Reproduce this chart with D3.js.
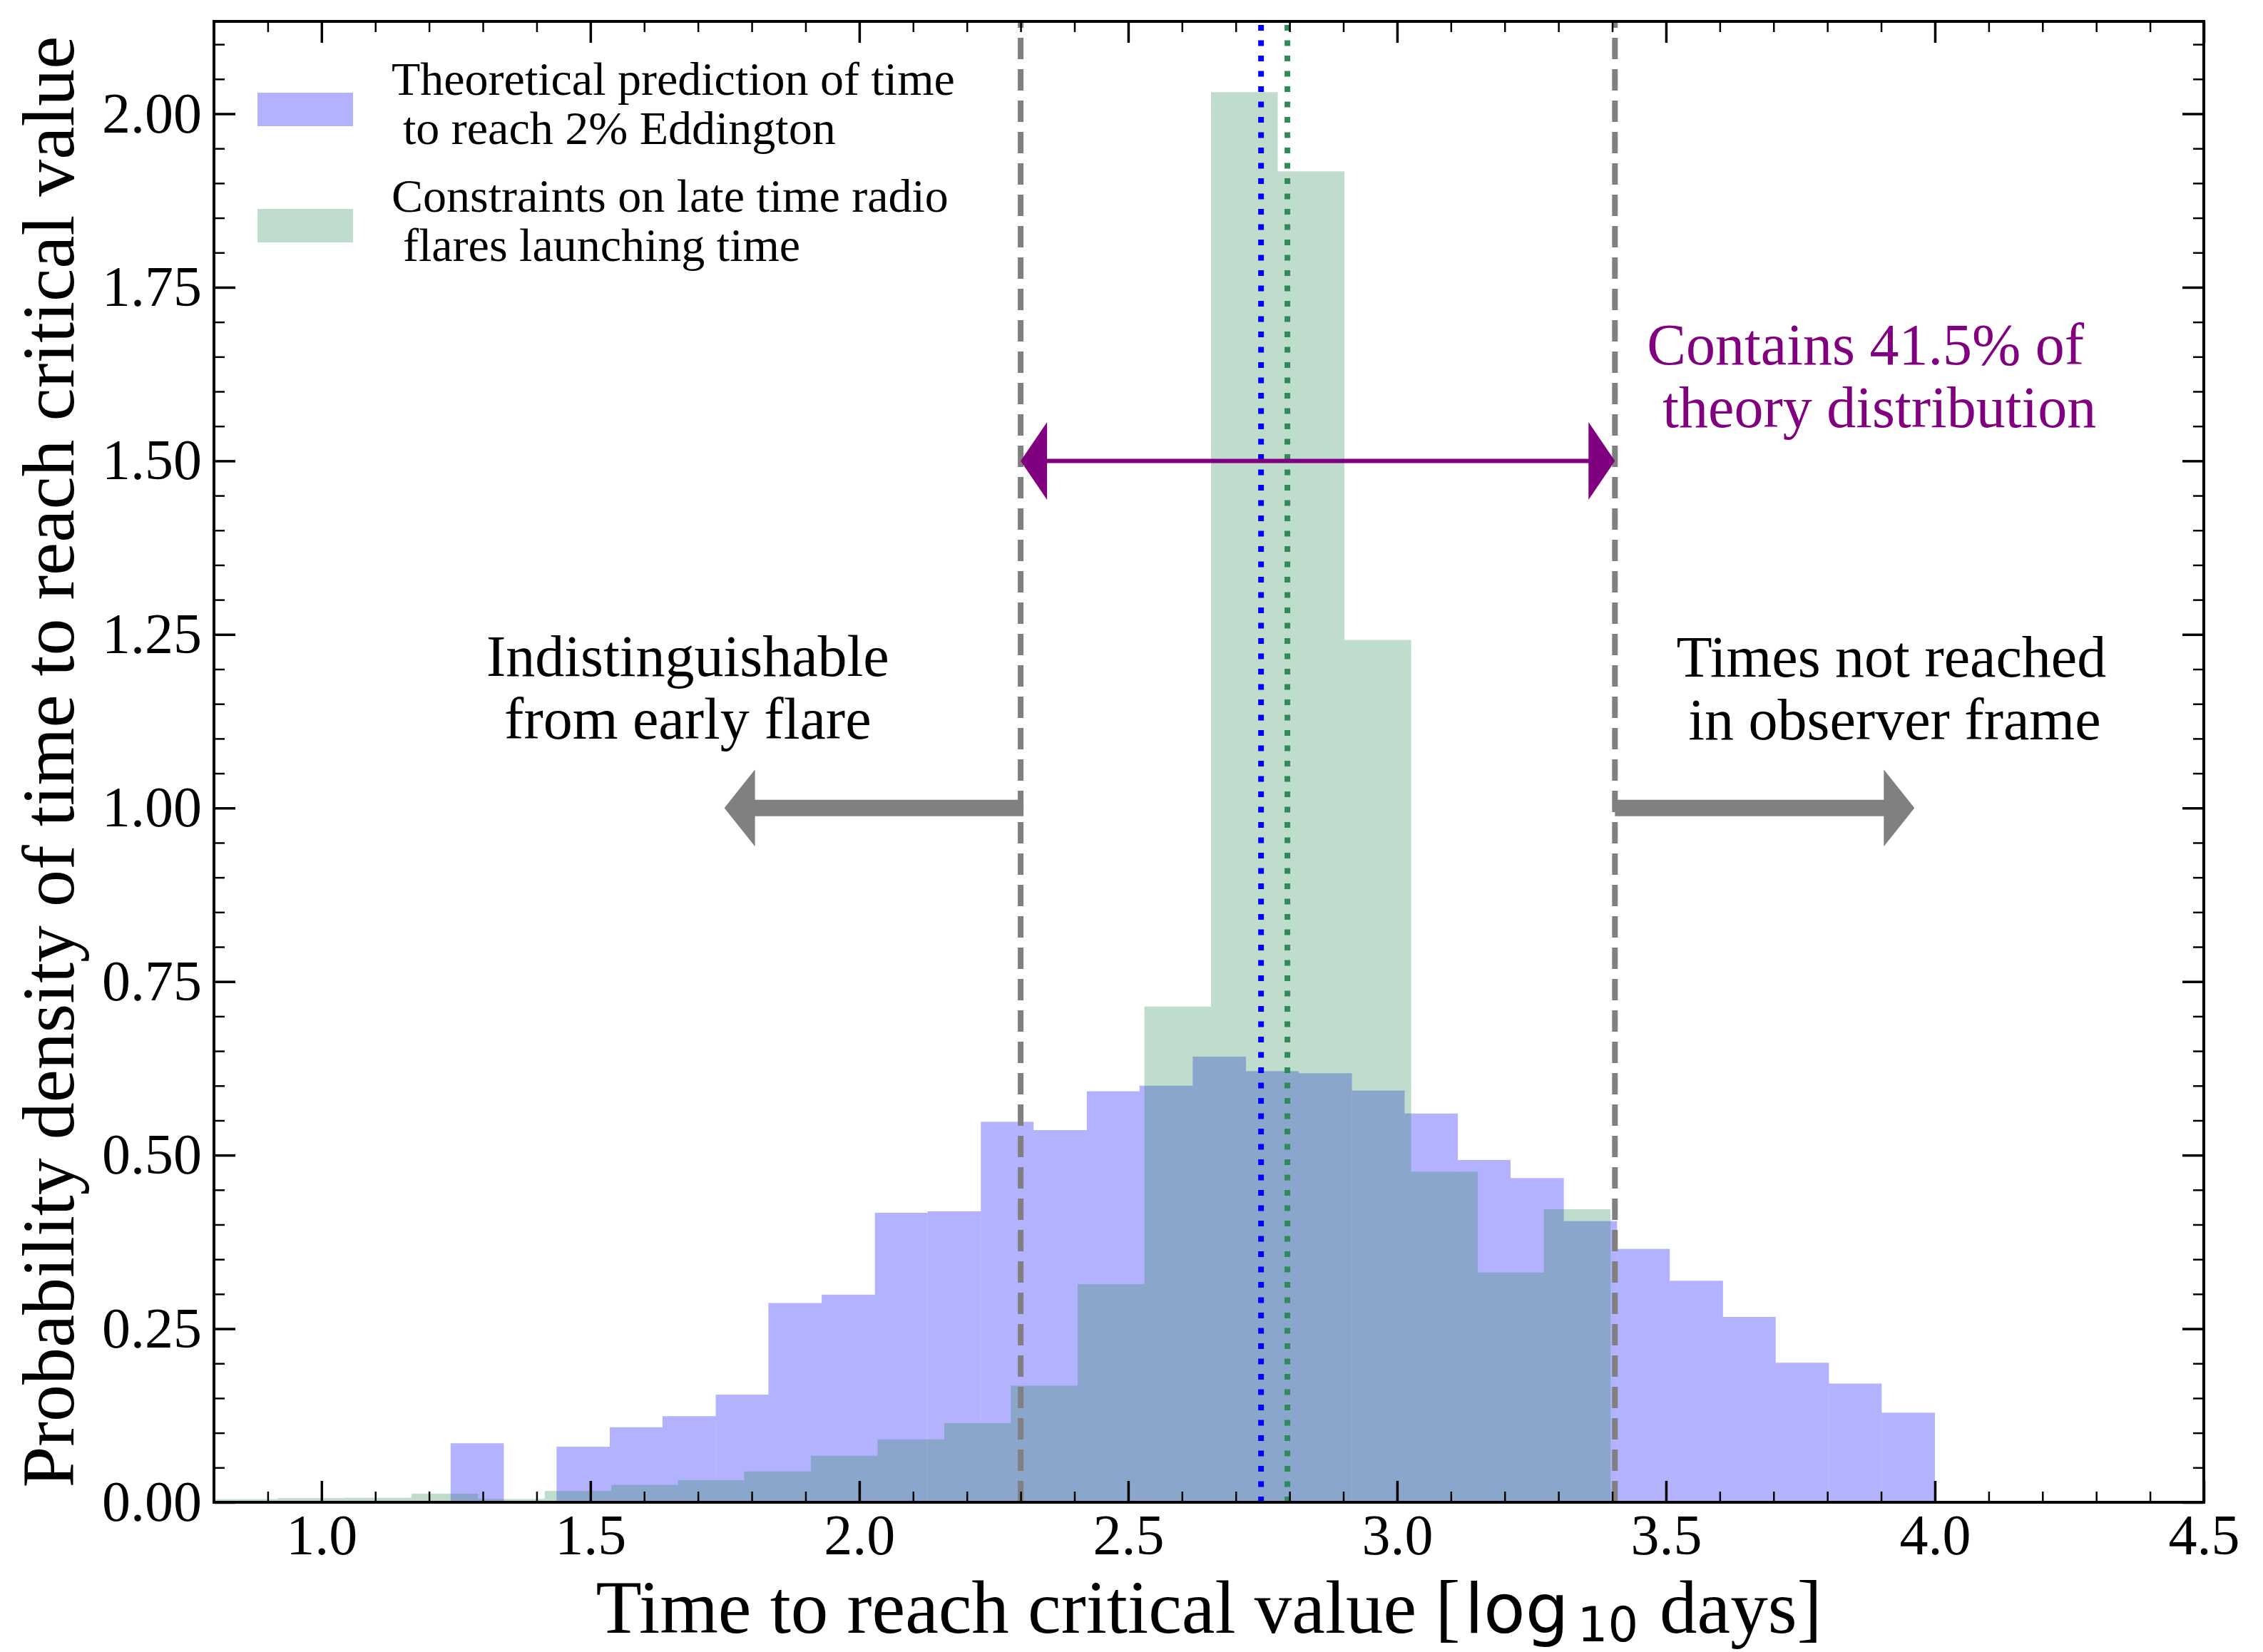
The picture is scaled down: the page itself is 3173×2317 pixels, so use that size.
<!DOCTYPE html>
<html>
<head>
<meta charset="utf-8">
<script src="https://cdn.jsdelivr.net/npm/d3@7"></script>
<style>
  html, body { margin: 0; padding: 0; background: #fff; }
  svg { display: block; }
  text { font-family: 'Liberation Serif', 'Times New Roman', serif; }
</style>
</head>
<body>
<div id="chart"></div>
<script>
// theoretical prediction (blue histogram), bin edges in log10 days
const blueEdges = [1.240, 1.339, 1.437, 1.536, 1.634, 1.733, 1.831, 1.930, 2.029, 2.127,
  2.226, 2.324, 2.423, 2.521, 2.620, 2.719, 2.817, 2.916, 3.014, 3.113,
  3.211, 3.310, 3.409, 3.507, 3.606, 3.704, 3.803, 3.901, 4.000]
const blueDensity = [0.085, 0, 0.080, 0.108, 0.124, 0.155, 0.287, 0.299, 0.417, 0.419,
  0.548, 0.536, 0.592, 0.600, 0.642, 0.621, 0.618, 0.593, 0.560, 0.493,
  0.467, 0.405, 0.365, 0.319, 0.267, 0.201, 0.171, 0.129]

// radio flare launching time constraints (green histogram)
const greenEdges = [0.795, 0.919, 1.043, 1.167, 1.291, 1.415, 1.539, 1.663, 1.786, 1.910,
  2.034, 2.158, 2.282, 2.406, 2.530, 2.654, 2.778, 2.902, 3.026, 3.150, 3.273, 3.397]
const greenDensity = [0.0045, 0.006, 0.0065, 0.0123, 0.0048, 0.0164, 0.025, 0.032, 0.0444, 0.067,
  0.0905, 0.114, 0.168, 0.314, 0.714, 2.031, 1.917, 1.242, 0.476, 0.331, 0.422]

const medians = [2.747, 2.796]          // blue, green
const windowEdges = [2.30, 3.405]       // grey dashed limits
const arrowLevel = 1.5
const greyArrowLevel = 1.0
const greyArrowTips = [1.749, 3.962]

const xTicks = [1.0, 1.5, 2.0, 2.5, 3.0, 3.5, 4.0, 4.5]
const xTickLabels = ['1.0', '1.5', '2.0', '2.5', '3.0', '3.5', '4.0', '4.5']
const yTicks = [0, 0.25, 0.5, 0.75, 1.0, 1.25, 1.5, 1.75, 2.0]
const yTickLabels = ['0.00', '0.25', '0.50', '0.75', '1.00', '1.25', '1.50', '1.75', '2.00']

const legendLabels = [
  ['Theoretical prediction of time', 'to reach 2% Eddington'],
  ['Constraints on late time radio', 'flares launching time']
]

const W = 3173, H = 2317
const pLeft = 300, pRight = 3090, pTop = 30, pBottom = 2107

const BLUE = 'blue', GREEN = 'seagreen', GREY = 'grey', PURPLE = 'purple'

const x = d3.scaleLinear().domain([0.8, 4.5]).range([pLeft, pRight])
const y = d3.scaleLinear().domain([0, 2.133]).range([pBottom, pTop])

const svg = d3.select('#chart').append('svg')
  .attr('width', W).attr('height', H)
  .attr('viewBox', `0 0 ${W} ${H}`)

svg.append('rect').attr('width', W).attr('height', H).attr('fill', '#fff')

svg.append('clipPath').attr('id', 'plot-clip')
  .append('rect')
  .attr('x', pLeft).attr('y', pTop)
  .attr('width', pRight - pLeft).attr('height', pBottom - pTop)

const plot = svg.append('g').attr('clip-path', 'url(#plot-clip)')

function bins(edges, values) {
  return values.map((v, i) => ({ x0: edges[i], x1: edges[i + 1], v }))
}

function drawHist(data, color) {
  plot.append('g')
    .selectAll('rect')
    .data(data.filter(d => d.v > 0))
    .join('rect')
    .attr('x', d => x(d.x0))
    .attr('width', d => x(d.x1) - x(d.x0))
    .attr('y', d => y(d.v))
    .attr('height', d => y(0) - y(d.v))
    .attr('fill', color)
    .attr('fill-opacity', 0.3)
}

drawHist(bins(blueEdges, blueDensity), BLUE)
drawHist(bins(greenEdges, greenDensity), GREEN)

// grey dashed window limits, drawn bottom -> top like axvline
plot.selectAll('line.window')
  .data(windowEdges)
  .join('line')
  .attr('class', 'window')
  .attr('x1', d => x(d)).attr('x2', d => x(d))
  .attr('y1', pBottom).attr('y2', pTop)
  .attr('stroke', GREY)
  .attr('stroke-width', 8)
  .attr('stroke-dasharray', '30,14')

// dotted medians
plot.selectAll('line.median')
  .data(medians)
  .join('line')
  .attr('class', 'median')
  .attr('x1', d => x(d)).attr('x2', d => x(d))
  .attr('y1', pBottom).attr('y2', pTop)
  .attr('stroke', (d, i) => i === 0 ? BLUE : GREEN)
  .attr('stroke-width', 8)
  .attr('stroke-dasharray', '8,13.5')

// arrows
function arrowPath(xTail, xTip, yc, shaft, headLen, headW) {
  const s = Math.sign(xTip - xTail)
  const xb = xTip - s * headLen
  return `M${xTail},${yc - shaft / 2}L${xb},${yc - shaft / 2}L${xb},${yc - headW / 2}` +
    `L${xTip},${yc}L${xb},${yc + headW / 2}L${xb},${yc + shaft / 2}L${xTail},${yc + shaft / 2}Z`
}

const ann = svg.append('g')

// purple double-headed arrow
const ay = y(arrowLevel)
const ax0 = x(windowEdges[0]), ax1 = x(windowEdges[1])
ann.append('line')
  .attr('x1', ax0 + 30).attr('x2', ax1 - 30)
  .attr('y1', ay).attr('y2', ay)
  .attr('stroke', PURPLE).attr('stroke-width', 6)
ann.selectAll('path.head')
  .data([[ax0 + 37, ax0], [ax1 - 37, ax1]])
  .join('path')
  .attr('class', 'head')
  .attr('d', d => `M${d[0]},${ay - 54.5}L${d[1]},${ay}L${d[0]},${ay + 54.5}Z`)
  .attr('fill', PURPLE)

// grey arrows
const gy = y(greyArrowLevel)
ann.append('path')
  .attr('d', arrowPath(x(windowEdges[0]) + 4, x(greyArrowTips[0]), gy, 23, 43, 108))
  .attr('fill', GREY)
ann.append('path')
  .attr('d', arrowPath(x(windowEdges[1]), x(greyArrowTips[1]), gy, 23, 43, 108))
  .attr('fill', GREY)

// annotation texts
const notes = [
  { lines: ['Indistinguishable', 'from early flare'], xs: [1.681, 1.681], yv: 1.190, color: 'black' },
  { lines: ['Times not reached', 'in observer frame'], xs: [3.919, 3.925], yv: 1.189, color: 'black' },
  { lines: ['Contains 41.5% of', 'theory distribution'], xs: [3.871, 3.897], yv: 1.639, color: PURPLE }
]
notes.forEach(n => {
  n.lines.forEach((t, i) => {
    ann.append('text')
      .attr('x', x(n.xs[i]))
      .attr('y', y(n.yv) + i * 88)
      .attr('text-anchor', 'middle')
      .attr('font-size', 82)
      .attr('fill', n.color)
      .text(t)
  })
})

// legend
const legend = svg.append('g')
const legendRows = [
  { color: BLUE, patchY: 130, base: 133 },
  { color: GREEN, patchY: 293, base: 297 }
]
legendRows.forEach((r, i) => {
  legend.append('rect')
    .attr('x', 361).attr('y', r.patchY)
    .attr('width', 134).attr('height', 47)
    .attr('fill', r.color).attr('fill-opacity', 0.3)
  legend.append('text')
    .attr('x', 549).attr('y', r.base)
    .attr('font-size', 66)
    .text(legendLabels[i][0])
  legend.append('text')
    .attr('x', 565).attr('y', r.base + 69)
    .attr('font-size', 66)
    .text(legendLabels[i][1])
})

// axes: inward ticks on all four sides
const xMinor = d3.range(8, 46).map(d => d / 10).filter(d => !xTicks.some(t => Math.abs(t - d) < 1e-6))
const yMinor = d3.range(0, 43).map(d => d * 0.05).filter(d => !yTicks.some(t => Math.abs(t - d) < 1e-6))

function styleAxis(g, width) {
  g.select('.domain').remove()
  g.selectAll('.tick line').attr('stroke', '#000').attr('stroke-width', width)
  g.selectAll('.tick text')
    .attr('fill', '#000')
    .attr('font-family', "'Liberation Serif', 'Times New Roman', serif")
    .attr('font-size', 80)
}

const bottomAxis = svg.append('g').attr('transform', `translate(0,${pBottom})`)
  .call(d3.axisBottom(x).tickValues(xTicks).tickSize(-30).tickPadding(16)
    .tickFormat((d, i) => xTickLabels[i]))
styleAxis(bottomAxis, 3.5)
svg.append('g').attr('transform', `translate(0,${pBottom})`)
  .call(d3.axisBottom(x).tickValues(xMinor).tickSize(-15).tickFormat(''))
  .call(g => styleAxis(g, 2.5))

svg.append('g').attr('transform', `translate(0,${pTop})`)
  .call(d3.axisTop(x).tickValues(xTicks).tickSize(-30).tickFormat(''))
  .call(g => styleAxis(g, 3.5))
svg.append('g').attr('transform', `translate(0,${pTop})`)
  .call(d3.axisTop(x).tickValues(xMinor).tickSize(-15).tickFormat(''))
  .call(g => styleAxis(g, 2.5))

const leftAxis = svg.append('g').attr('transform', `translate(${pLeft},0)`)
  .call(d3.axisLeft(y).tickValues(yTicks).tickSize(-30).tickPadding(17)
    .tickFormat((d, i) => yTickLabels[i]))
styleAxis(leftAxis, 3.5)
svg.append('g').attr('transform', `translate(${pLeft},0)`)
  .call(d3.axisLeft(y).tickValues(yMinor).tickSize(-15).tickFormat(''))
  .call(g => styleAxis(g, 2.5))

svg.append('g').attr('transform', `translate(${pRight},0)`)
  .call(d3.axisRight(y).tickValues(yTicks).tickSize(-30).tickFormat(''))
  .call(g => styleAxis(g, 3.5))
svg.append('g').attr('transform', `translate(${pRight},0)`)
  .call(d3.axisRight(y).tickValues(yMinor).tickSize(-15).tickFormat(''))
  .call(g => styleAxis(g, 2.5))

svg.append('rect')
  .attr('x', pLeft).attr('y', pTop)
  .attr('width', pRight - pLeft).attr('height', pBottom - pTop)
  .attr('fill', 'none').attr('stroke', '#000').attr('stroke-width', 4)

// axis labels
const xl = svg.append('text')
  .attr('x', (pLeft + pRight) / 2).attr('y', 2290)
  .attr('text-anchor', 'middle')
  .attr('font-size', 105)
xl.append('tspan').text('Time to reach critical value [')
xl.append('tspan').attr('font-family', "'DejaVu Sans', sans-serif").attr('font-size', 96).attr('dx', 6).text('log')
xl.append('tspan').attr('font-family', "'DejaVu Sans', sans-serif").attr('font-size', 67).attr('dx', 12).attr('dy', 12).text('10')
xl.append('tspan').attr('dy', -12).attr('dx', 30).text('days]')

svg.append('text')
  .attr('transform', `translate(103,${(pTop + pBottom) / 2}) rotate(-90)`)
  .attr('text-anchor', 'middle')
  .attr('font-size', 104)
  .text('Probability density of time to reach critical value')
</script>
</body>
</html>
